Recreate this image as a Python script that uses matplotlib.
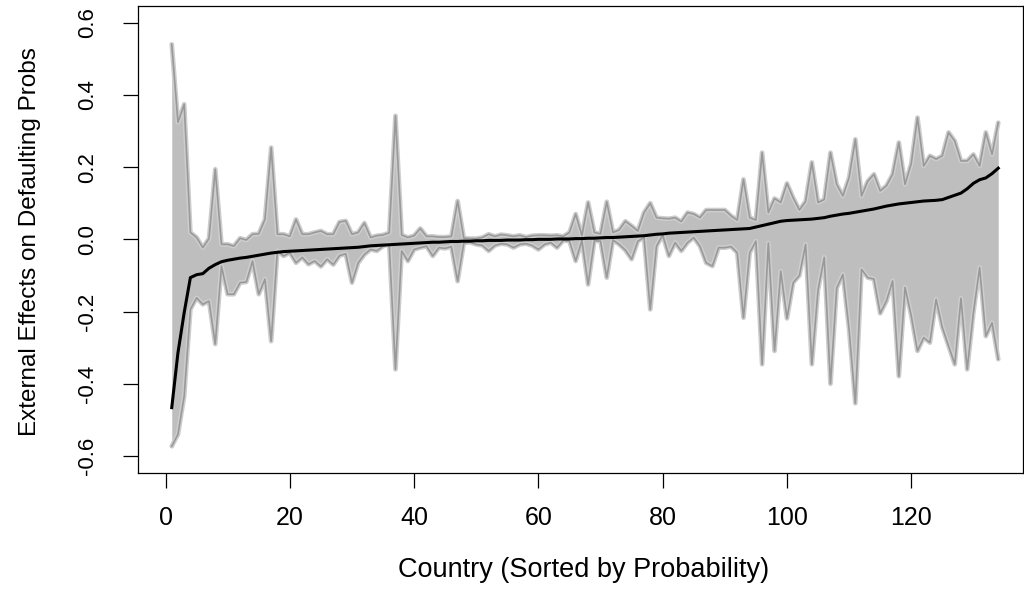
import numpy as np
import matplotlib
matplotlib.use("Agg")
import matplotlib.pyplot as plt

# upper / lower bound of the external effect for each country, and the median curve
upper = [0.54, 0.324, 0.374, 0.019, 0.005, -0.023, 0.002, 0.194, -0.014, -0.014,
         -0.019, 0.003, -0.002, 0.014, 0.015, 0.055, 0.254, 0.014, 0.014, 0.008,
         0.055, 0.014, 0.014, 0.019, 0.023, 0.014, 0.014, 0.048, 0.051, 0.014,
         0.019, 0.045, 0.005, 0.010, 0.012, 0.018, 0.342, 0.012, 0.005, 0.010,
         0.030, 0.008, 0.008, 0.006, 0.006, 0.008, 0.106, 0.003, 0.002, 0.002,
         0.005, 0.014, 0.008, 0.013, 0.011, 0.008, 0.011, 0.006, 0.010, 0.011,
         0.011, 0.010, 0.011, 0.008, 0.019, 0.070, 0.010, 0.102, 0.019, 0.015,
         0.104, 0.019, 0.026, 0.050, 0.037, 0.023, 0.074, 0.100, 0.060, 0.058,
         0.057, 0.060, 0.049, 0.074, 0.070, 0.060, 0.081, 0.081, 0.081, 0.081,
         0.065, 0.053, 0.166, 0.060, 0.053, 0.240, 0.074, 0.113, 0.102, 0.155,
         0.115, 0.081, 0.105, 0.213, 0.102, 0.110, 0.240, 0.152, 0.120, 0.171,
         0.277, 0.120, 0.161, 0.180, 0.134, 0.148, 0.180, 0.268, 0.152, 0.210,
         0.337, 0.203, 0.231, 0.222, 0.231, 0.296, 0.272, 0.217, 0.217, 0.235,
         0.203, 0.296, 0.235, 0.323]

lower = [-0.573, -0.540, -0.434, -0.194, -0.162, -0.180, -0.171, -0.290, -0.074, -0.152,
         -0.152, -0.120, -0.118, -0.060, -0.152, -0.110, -0.282, -0.032, -0.046, -0.037,
         -0.065, -0.050, -0.069, -0.060, -0.075, -0.055, -0.070, -0.045, -0.040, -0.120,
         -0.065, -0.042, -0.028, -0.032, -0.019, -0.014, -0.360, -0.032, -0.060, -0.028,
         -0.023, -0.019, -0.046, -0.023, -0.025, -0.020, -0.116, -0.010, -0.008, -0.014,
         -0.017, -0.032, -0.017, -0.012, -0.014, -0.023, -0.014, -0.012, -0.017, -0.028,
         -0.014, -0.009, -0.023, -0.003, -0.005, -0.060, -0.003, -0.125, -0.004, -0.005,
         -0.106, -0.002, -0.014, -0.030, -0.055, -0.005, 0.005, -0.194, -0.019, 0.012,
         -0.046, -0.009, -0.032, -0.009, 0.005, -0.019, -0.065, -0.074, -0.023, -0.023,
         -0.020, -0.037, -0.217, -0.037, -0.005, -0.346, -0.010, -0.309, -0.088, -0.219,
         -0.120, -0.100, -0.014, -0.346, -0.140, -0.050, -0.400, -0.135, -0.097, -0.250,
         -0.454, -0.083, -0.106, -0.110, -0.205, -0.171, -0.115, -0.379, -0.133, -0.212,
         -0.309, -0.272, -0.286, -0.166, -0.244, -0.295, -0.346, -0.163, -0.360, -0.203,
         -0.078, -0.268, -0.231, -0.332]

median = [-0.466, -0.314, -0.203, -0.106, -0.098, -0.095, -0.080, -0.070, -0.062, -0.058,
          -0.055, -0.052, -0.050, -0.047, -0.044, -0.041, -0.038, -0.036, -0.034, -0.033,
          -0.032, -0.031, -0.030, -0.029, -0.028, -0.027, -0.026, -0.025, -0.024, -0.023,
          -0.022, -0.020, -0.018, -0.017, -0.016, -0.015, -0.014, -0.013, -0.012, -0.011,
          -0.010, -0.009, -0.008, -0.008, -0.007, -0.006, -0.006, -0.005, -0.005, -0.004,
          -0.004, -0.003, -0.003, -0.003, -0.002, -0.002, -0.002, -0.001, -0.001, 0.000,
          0.000, 0.000, 0.001, 0.001, 0.001, 0.002, 0.002, 0.003, 0.003, 0.004,
          0.005, 0.005, 0.006, 0.007, 0.008, 0.009, 0.010, 0.012, 0.014, 0.015,
          0.017, 0.018, 0.019, 0.020, 0.021, 0.022, 0.023, 0.024, 0.025, 0.026,
          0.027, 0.028, 0.029, 0.030, 0.034, 0.038, 0.042, 0.046, 0.050, 0.052,
          0.053, 0.054, 0.055, 0.056, 0.058, 0.060, 0.064, 0.067, 0.070, 0.072,
          0.075, 0.078, 0.081, 0.084, 0.088, 0.092, 0.095, 0.098, 0.100, 0.102,
          0.104, 0.106, 0.107, 0.108, 0.110, 0.116, 0.122, 0.128, 0.140, 0.155,
          0.165, 0.170, 0.182, 0.197]

country = np.arange(1, len(median) + 1)
xticks = [0, 20, 40, 60, 80, 100, 120]
yticks = [-0.6, -0.4, -0.2, 0.0, 0.2, 0.4, 0.6]

plt.rcParams['font.family'] = ['Liberation Sans', 'DejaVu Sans']

fig = plt.figure(figsize=(10.24, 5.89), dpi=100)
ax = fig.add_axes([138 / 1024, 1 - 473 / 589, (1022.5 - 138) / 1024, (473 - 6) / 589])

ax.fill_between(country, lower, upper, color='#bebebe', lw=0, zorder=1)
for band in (upper, lower):
    ax.plot(country, band, color='#cdcdcd', lw=3.4, solid_joinstyle='round',
            solid_capstyle='round', zorder=2)
for band in (upper, lower):
    ax.plot(country, band, color='#999999', lw=1.2, zorder=3)
ax.plot(country, median, color='black', lw=2.2, zorder=4)

ax.set_xlim(-4.43, 137.9)
ax.set_ylim(-0.647, 0.646)
ax.set_xticks(xticks)
ax.set_xticklabels([str(t) for t in xticks])
ax.set_yticks(yticks)
ax.set_yticklabels(['%.1f' % t for t in yticks])
plt.setp(ax.get_yticklabels(), rotation=90, va='center')

ax.tick_params(axis='both', direction='out', length=11, width=0.9, color='black')
ax.tick_params(axis='x', pad=13, labelsize=18)
ax.tick_params(axis='y', pad=18, labelsize=16)
for s in ax.spines.values():
    s.set_linewidth(0.9)

fig.text(584 / 1024, 1 - 570 / 589, 'Country (Sorted by Probability)', ha='center', va='center', fontsize=19.5)
fig.text(30 / 1024, 1 - 242 / 589, 'External Effects on Defaulting Probs', ha='center', va='center',
         rotation=90, fontsize=17.5)

fig.savefig('out.png', dpi=100)
